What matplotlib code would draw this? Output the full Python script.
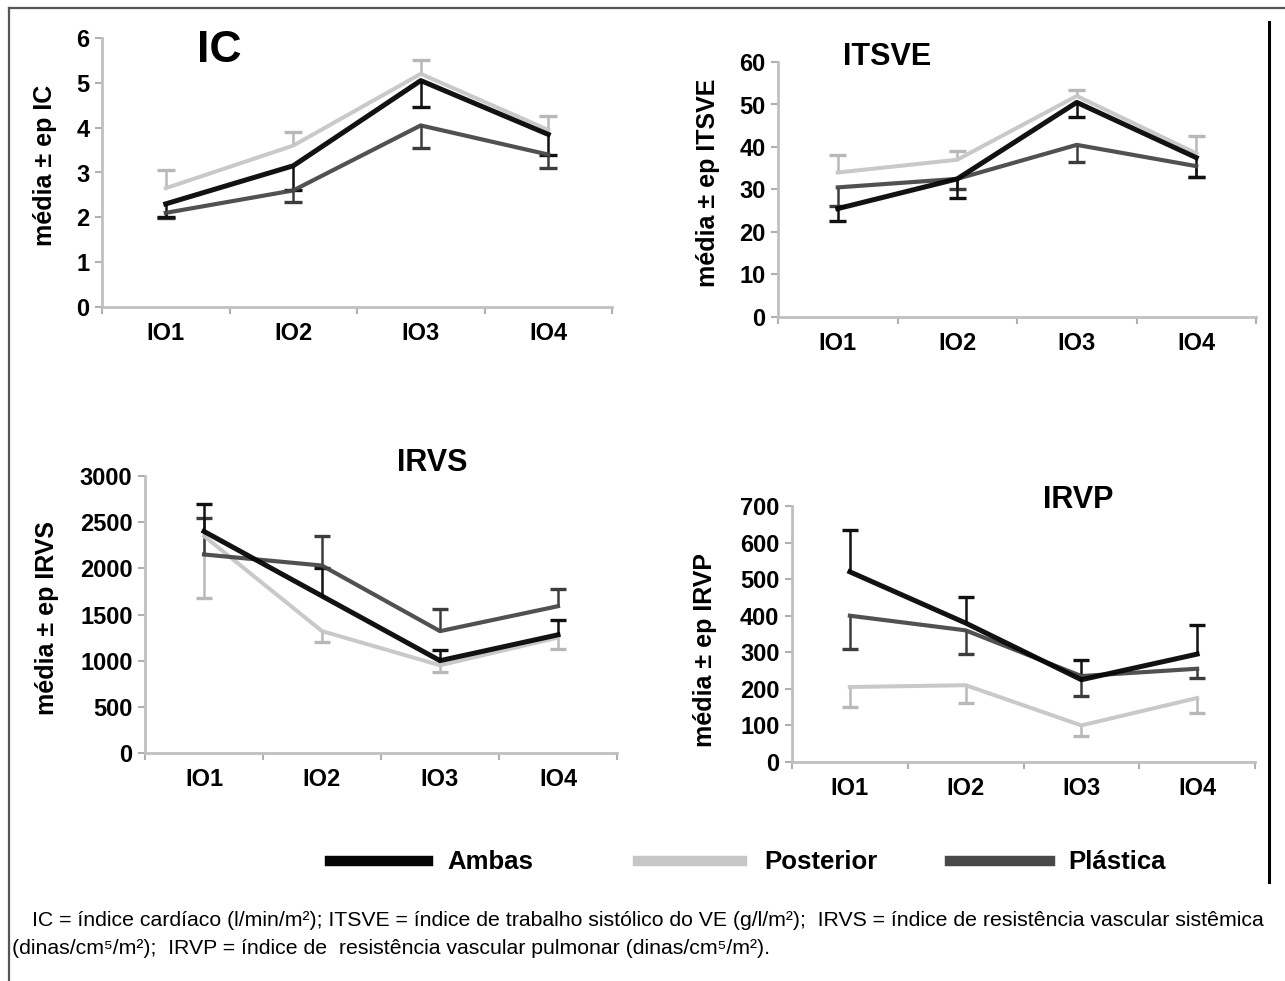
import numpy as np
import matplotlib
matplotlib.use("Agg")
import matplotlib.pyplot as plt
from matplotlib.lines import Line2D

plt.rcParams['font.family'] = ['Liberation Sans', 'DejaVu Sans']

W, H = 1285, 981

cats = ["IO1", "IO2", "IO3", "IO4"]
series = ["Ambas", "Posterior", "Plástica"]
colors = {"Ambas": "#050505", "Posterior": "#c6c6c6", "Plástica": "#484848"}
err_colors = {"Ambas": "#111111", "Posterior": "#b8b8b8", "Plástica": "#3c3c3c"}
widths = {"Ambas": 3.6, "Posterior": 2.9, "Plástica": 3.0}

# IC
ic_ambas = [2.3, 3.15, 5.05, 3.85]
ic_ambas_err = [-0.3, -0.55, -0.6, -0.45]
ic_post = [2.65, 3.6, 5.2, 3.95]
ic_post_err = [0.4, 0.3, 0.3, 0.3]
ic_plast = [2.1, 2.6, 4.05, 3.4]
ic_plast_err = [-0.12, -0.25, -0.5, -0.3]

# ITSVE
itsve_ambas = [25.5, 32.5, 50.5, 37.5]
itsve_ambas_err = [-3, -4.5, -3.5, -4.5]
itsve_post = [34, 37, 52, 38.5]
itsve_post_err = [4, 2, 1.5, 4]
itsve_plast = [30.5, 32.5, 40.5, 35.5]
itsve_plast_err = [-4.5, -2.5, -4, -2.5]

# IRVS
irvs_ambas = [2400, 1700, 1000, 1280]
irvs_ambas_err = [300, 300, 120, 160]
irvs_post = [2350, 1320, 950, 1250]
irvs_post_err = [-670, -120, -70, -120]
irvs_plast = [2150, 2030, 1320, 1590]
irvs_plast_err = [400, 320, 240, 190]

# IRVP
irvp_ambas = [520, 380, 225, 295]
irvp_ambas_err = [115, 70, 55, 80]
irvp_post = [205, 210, 100, 175]
irvp_post_err = [-55, -50, -30, -40]
irvp_plast = [400, 360, 235, 255]
irvp_plast_err = [-90, -65, -55, -25]

panels = [
    # title, ylabel, ymax, step, data, pixel box (x0, x1, ytop, ybottom), title pos, ylabel pos, title size
    ("IC", "média ± ep IC", 6, 1,
     {"Ambas": (ic_ambas, ic_ambas_err), "Posterior": (ic_post, ic_post_err), "Plástica": (ic_plast, ic_plast_err)},
     (102, 612, 38, 307), (219, 51), (45, 165), 32),
    ("ITSVE", "média ± ep ITSVE", 60, 10,
     {"Ambas": (itsve_ambas, itsve_ambas_err), "Posterior": (itsve_post, itsve_post_err), "Plástica": (itsve_plast, itsve_plast_err)},
     (778, 1256, 62, 317), (887, 57), (708, 183), 22),
    ("IRVS", "média ± ep IRVS", 3000, 500,
     {"Ambas": (irvs_ambas, irvs_ambas_err), "Posterior": (irvs_post, irvs_post_err), "Plástica": (irvs_plast, irvs_plast_err)},
     (145, 617, 476, 753), (432, 463), (47, 618), 22),
    ("IRVP", "média ± ep IRVP", 700, 100,
     {"Ambas": (irvp_ambas, irvp_ambas_err), "Posterior": (irvp_post, irvp_post_err), "Plástica": (irvp_plast, irvp_plast_err)},
     (792, 1255, 506, 762), (1078, 500), (705, 650), 22),
]

fig = plt.figure(figsize=(W / 100, H / 100), dpi=100)

x = np.arange(len(cats))
for title, ylab, ymax, step, data, box, tpos, ypos, tsize in panels:
    x0, x1, yt, yb = box
    ax = fig.add_axes([x0 / W, 1 - yb / H, (x1 - x0) / W, (yb - yt) / H])
    for s in ["Posterior", "Plástica", "Ambas"]:
        vals, errs = data[s]
        vals = np.array(vals, dtype=float)
        ends = vals + np.array(errs, dtype=float)
        ax.vlines(x, vals, ends, color=err_colors[s], lw=1.8, zorder=2)
        ax.hlines(ends, x - 0.07, x + 0.07, color=err_colors[s], lw=2.4, zorder=2)
        ax.plot(x, vals, color=colors[s], lw=widths[s], solid_joinstyle='round', zorder=3, alpha=0.95)
    ax.set_xlim(-0.5, 3.5)
    ax.set_ylim(0, ymax)
    ax.set_yticks(np.arange(0, ymax + step, step))
    ax.set_xticks(x)
    ax.set_xticklabels(cats)
    ax.set_xticks(np.arange(-0.5, 4, 1), minor=True)
    ax.tick_params(axis='x', which='major', length=0, pad=11, labelsize=17)
    ax.tick_params(axis='x', which='minor', length=5, width=1.5, color='#b0b0b0', direction='out')
    ax.tick_params(axis='y', length=5, width=1.5, color='#b0b0b0', labelsize=17, pad=4)
    for lab in ax.get_xticklabels() + ax.get_yticklabels():
        lab.set_fontweight('bold')
    for sp in ["top", "right"]:
        ax.spines[sp].set_visible(False)
    for sp in ["left", "bottom"]:
        ax.spines[sp].set_color('#c0c0c0')
        ax.spines[sp].set_linewidth(2)
    ax.spines["left"].set_bounds(0, ymax)
    ax.set_facecolor('none')
    fig.text(tpos[0] / W, 1 - tpos[1] / H, title, fontsize=tsize, fontweight='bold',
             ha='center', va='center')
    fig.text(ypos[0] / W, 1 - ypos[1] / H, ylab, fontsize=18, fontweight='bold',
             rotation=90, ha='center', va='center')

# legend
leg_y = 861
leg_items = [("Ambas", 330, 428, 447), ("Posterior", 638, 742, 764), ("Plástica", 950, 1050, 1068)]
for s, lx0, lx1, tx in leg_items:
    fig.add_artist(Line2D([lx0 / W, lx1 / W], [1 - leg_y / H, 1 - leg_y / H],
                          color=colors[s], lw=7.5, transform=fig.transFigure))
    fig.text(tx / W, 1 - (leg_y + 1) / H, s, fontsize=18.5, fontweight='bold', ha='left', va='center')

# frame
fig.add_artist(Line2D([9 / W, 1], [1 - 8 / H, 1 - 8 / H], color='#555555', lw=1.6, transform=fig.transFigure))
fig.add_artist(Line2D([9 / W, 9 / W], [1 - 8 / H, 0], color='#555555', lw=1.6, transform=fig.transFigure))
fig.add_artist(Line2D([1269 / W, 1269 / W], [1 - 22 / H, 1 - 882 / H], color='#000000', lw=2.2,
                      transform=fig.transFigure))

# caption
cap1 = ("IC = índice cardíaco (l/min/m²); ITSVE = índice de trabalho sistólico do VE (g/l/m²);  "
        "IRVS = índice de resistência vascular sistêmica")
cap2 = "(dinas/cm⁵/m²);  IRVP = índice de  resistência vascular pulmonar (dinas/cm⁵/m²)."
fig.text(32 / W, 1 - 920 / H, cap1, fontsize=15.3, ha='left', va='center')
fig.text(12 / W, 1 - 949 / H, cap2, fontsize=15.3, ha='left', va='center')

fig.savefig("out.png", dpi=100)
